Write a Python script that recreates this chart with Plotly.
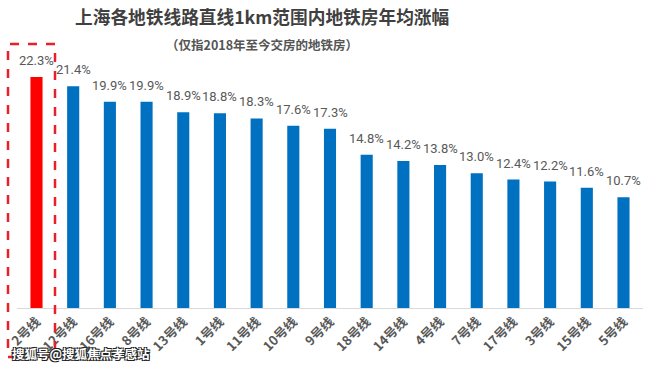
import plotly.graph_objects as go

lines = ["2号线", "12号线", "16号线", "8号线", "13号线", "1号线", "11号线", "10号线", "9号线",
         "18号线", "14号线", "4号线", "7号线", "17号线", "3号线", "15号线", "5号线"]
growth = [22.3, 21.4, 19.9, 19.9, 18.9, 18.8, 18.3, 17.6, 17.3,
          14.8, 14.2, 13.8, 13.0, 12.4, 12.2, 11.6, 10.7]
highlight = "2号线"

colors = ["#FF0000" if c == highlight else "#0070C0" for c in lines]

fig = go.Figure()
fig.add_trace(go.Bar(x=lines, y=growth, marker=dict(color=colors, line=dict(width=0)),
                     hoverinfo="skip"))

for c, v in zip(lines, growth):
    fig.add_annotation(x=c, y=v, text=f"{v:.1f}%", showarrow=False, yanchor="bottom",
                       yshift=7, font=dict(family="Liberation Sans Narrow, Roboto", size=13, color="#595959"))

W, H = 660, 369
L, R, T, B = 17, 17, 49, 61
pw, ph = W - L - R, H - T - B

def px_x(x):
    return (x - L) / pw

def px_y(y):
    return (H - B - y) / ph

fig.add_shape(type="rect", xref="paper", yref="paper",
              x0=px_x(8), x1=px_x(55), y0=px_y(357), y1=px_y(44),
              line=dict(color="#E8202A", width=2.5, dash="dash"), fillcolor="rgba(0,0,0,0)")

fig.add_annotation(xref="paper", yref="paper", x=px_x(262), y=px_y(16),
                   text="<b>上海各地铁线路直线1km范围内地铁房年均涨幅</b>", showarrow=False,
                   xanchor="center", yanchor="middle",
                   font=dict(family="Noto Sans CJK SC", size=17.7, color="#404040"))
fig.add_annotation(xref="paper", yref="paper", x=px_x(262), y=px_y(44),
                   text="<b>（仅指2018年至今交房的地铁房）</b>", showarrow=False,
                   xanchor="center", yanchor="middle",
                   font=dict(family="Noto Sans CJK SC", size=12.5, color="#555555"))
fig.add_annotation(xref="paper", yref="paper", x=px_x(10), y=px_y(353),
                   text="<b>搜狐号@搜狐焦点孝感站</b>", showarrow=False,
                   xanchor="left", yanchor="middle",
                   font=dict(family="Noto Sans CJK SC", size=12.5, color="white",
                             shadow="-1px -1px 0 #222, 1px -1px 0 #222, -1px 1px 0 #222, 1px 1px 0 #222"))

fig.update_layout(
    width=W, height=H,
    margin=dict(l=L, r=R, t=T, b=B, pad=0),
    paper_bgcolor="white", plot_bgcolor="white",
    bargap=0.67, showlegend=False, hovermode=False,
    xaxis=dict(tickangle=-45, showline=True, linecolor="#D9D9D9", linewidth=1,
               ticks="", showgrid=False, automargin=False,
               tickfont=dict(family="Noto Sans CJK SC", size=13, color="#595959", weight="bold")),
    yaxis=dict(range=[0, 25], visible=False, showgrid=False, zeroline=False),
)

fig.write_html("out.html", config={"displayModeBar": False},
               post_script="document.body.style.margin='0px';document.body.style.overflow='hidden';")
